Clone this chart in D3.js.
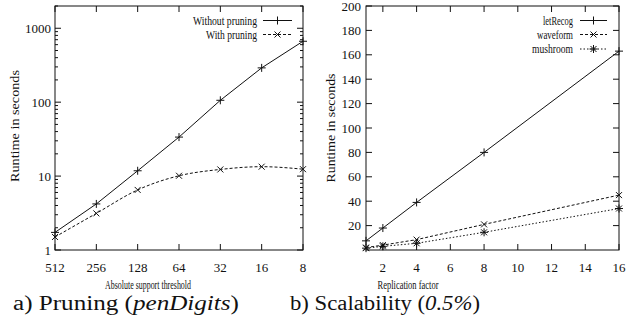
<!DOCTYPE html>
<html>
<head>
<meta charset="utf-8">
<script src="https://cdn.jsdelivr.net/npm/d3@7"></script>
<style>
  body { margin: 0; background: #fff; }
  svg { display: block; }
  svg text { font-family: "Liberation Serif", "Nimbus Roman", "Times", "DejaVu Serif", serif; }
</style>
</head>
<body>
<svg id="fig"></svg>
<script>
// ---- data ----
const thresholds = [512, 256, 128, 64, 32, 16, 8];
const withoutPruning = [1.73, 4.2, 11.8, 33.7, 106, 291, 667];
const withPruning = [1.5, 3.13, 6.5, 10.1, 12.3, 13.4, 12.4];
const logTicks = [1, 10, 100, 1000];

const factors = [1, 2, 4, 8, 16];
const letRecog = [7.5, 18, 39, 80, 163];
const waveform = [2, 4, 8.5, 21, 45];
const mushroom = [1.5, 3, 5.5, 14.5, 34];
const linTicksY = [20, 40, 60, 80, 100, 120, 140, 160, 180, 200];
const linTicksX = [2, 4, 6, 8, 10, 12, 14, 16];

const size = {w: 631, h: 335};
const svg = d3.select('svg#fig')
    .attr('width', size.w).attr('height', size.h)
    .attr('fill', '#111');

// fit text to a width by squeezing glyphs
function fit(sel, w) {
    sel.attr('textLength', w).attr('lengthAdjust', 'spacingAndGlyphs');
    return sel;
}

const markers = {
    plus: (g, x, y) => g.append('path').attr('d', `M${x-4},${y}H${x+4}M${x},${y-4}V${y+4}`),
    cross: (g, x, y) => g.append('path').attr('d', `M${x-3},${y-3}L${x+3},${y+3}M${x-3},${y+3}L${x+3},${y-3}`),
    star: (g, x, y) => g.append('path').attr('d', `M${x-4},${y}H${x+4}M${x},${y-4}V${y+4}M${x-3},${y-3}L${x+3},${y+3}M${x-3},${y+3}L${x+3},${y-3}`)
};

function drawFrame(g, box) {
    g.append('rect')
        .attr('x', box.x0).attr('y', box.y0)
        .attr('width', box.x1 - box.x0).attr('height', box.y1 - box.y0)
        .attr('fill', 'none').attr('stroke', '#111').attr('stroke-width', 1);
}

function tick(g, d) {
    g.append('path').attr('d', d).attr('stroke', '#111').attr('stroke-width', 1).attr('fill', 'none');
}

function drawSeries(g, xs, ys, x, y, dash, curve, marker) {
    let line = d3.line().x((d, i) => x(xs[i])).y(d => y(d)).curve(curve);
    g.append('path')
        .datum(ys)
        .attr('d', line)
        .attr('fill', 'none')
        .attr('stroke', '#111')
        .attr('stroke-width', 1)
        .attr('stroke-dasharray', dash);
    let mg = g.append('g').attr('stroke', '#111').attr('stroke-width', 1);
    ys.forEach((v, i) => markers[marker](mg, x(xs[i]), y(v)));
}

function legendRow(g, xText, xLine0, xLine1, y, label, w, dash, marker) {
    fit(g.append('text')
        .attr('x', xText).attr('y', y + 4)
        .attr('text-anchor', 'end')
        .attr('font-size', 13)
        .text(label), w);
    g.append('line')
        .attr('x1', xLine0).attr('x2', xLine1).attr('y1', y).attr('y2', y)
        .attr('stroke', '#111').attr('stroke-dasharray', dash);
    let mg = g.append('g').attr('stroke', '#111');
    markers[marker](mg, (xLine0 + xLine1) / 2, y);
}

// ---- panel a: pruning ----
function pruning() {
    const box = {x0: 55, x1: 303, y0: 6, y1: 250};
    const g = svg.append('g');
    const x = d3.scaleLog().base(2).domain([512, 8]).range([box.x0, box.x1]);
    const y = d3.scaleLog().domain([1, 2000]).range([box.y1, box.y0]);

    drawFrame(g, box);

    // y ticks, major + minor, on both sides
    for (let dec = 1; dec <= 1000; dec *= 10) {
        for (let m = 1; m <= 9; m++) {
            let v = dec * m;
            if (v > 2000) break;
            let yy = y(v);
            let len = m === 1 ? 6 : 3;
            tick(g, `M${box.x0},${yy}h${len}M${box.x1},${yy}h${-len}`);
        }
    }
    logTicks.forEach(v => {
        g.append('text')
            .attr('x', box.x0 - 4).attr('y', y(v) + 4.5)
            .attr('text-anchor', 'end').attr('font-size', 13)
            .text(v);
    });

    thresholds.forEach(v => {
        tick(g, `M${x(v)},${box.y1}v-6M${x(v)},${box.y0}v6`);
        g.append('text')
            .attr('x', x(v)).attr('y', box.y1 + 22)
            .attr('text-anchor', 'middle').attr('font-size', 13)
            .text(v);
    });

    fit(g.append('text')
        .attr('x', 148).attr('y', 289)
        .attr('text-anchor', 'middle').attr('font-size', 12)
        .text('Absolute support threshold'), 86);
    fit(g.append('text')
        .attr('transform', 'translate(19, 126) rotate(-90)')
        .attr('text-anchor', 'middle').attr('font-size', 13)
        .text('Runtime in seconds'), 112);

    drawSeries(g, thresholds, withoutPruning, x, y, null, d3.curveLinear, 'plus');
    drawSeries(g, thresholds, withPruning, x, y, '3,2', d3.curveMonotoneX, 'cross');

    legendRow(g, 257, 263, 292, 20.5, 'Without pruning', 64, null, 'plus');
    legendRow(g, 257, 263, 292, 34.5, 'With pruning', 51, '3,2', 'cross');
}

// ---- panel b: scalability ----
function scalability() {
    const box = {x0: 366, x1: 619, y0: 6, y1: 250};
    const g = svg.append('g');
    const x = d3.scaleLinear().domain([1, 16]).range([box.x0, box.x1]);
    const y = d3.scaleLinear().domain([0, 200]).range([box.y1, box.y0]);

    drawFrame(g, box);

    linTicksY.forEach(v => {
        tick(g, `M${box.x0},${y(v)}h6M${box.x1},${y(v)}h-6`);
        g.append('text')
            .attr('x', box.x0 - 5).attr('y', y(v) + 4.5)
            .attr('text-anchor', 'end').attr('font-size', 13)
            .text(v);
    });
    linTicksX.forEach(v => {
        tick(g, `M${x(v)},${box.y1}v-6M${x(v)},${box.y0}v6`);
        g.append('text')
            .attr('x', x(v)).attr('y', box.y1 + 22)
            .attr('text-anchor', 'middle').attr('font-size', 13)
            .text(v);
    });

    fit(g.append('text')
        .attr('x', 408).attr('y', 289)
        .attr('text-anchor', 'middle').attr('font-size', 12)
        .text('Replication factor'), 61);
    fit(g.append('text')
        .attr('transform', 'translate(335, 128) rotate(-90)')
        .attr('text-anchor', 'middle').attr('font-size', 13)
        .text('Runtime in seconds'), 109);

    drawSeries(g, factors, letRecog, x, y, null, d3.curveLinear, 'plus');
    drawSeries(g, factors, waveform, x, y, '3,2', d3.curveLinear, 'cross');
    drawSeries(g, factors, mushroom, x, y, '1.5,2', d3.curveLinear, 'star');

    legendRow(g, 573, 580, 607, 20.5, 'letRecog', 30, null, 'plus');
    legendRow(g, 573, 580, 607, 34.5, 'waveform', 36, '3,2', 'cross');
    legendRow(g, 573, 580, 607, 49, 'mushroom', 41, '1.5,2', 'star');
}

pruning();
scalability();

// ---- captions ----
const capA = svg.append('text').attr('x', 13).attr('y', 310).attr('font-size', 20);
capA.append('tspan').text('a) Pruning (');
capA.append('tspan').attr('font-style', 'italic').text('penDigits');
capA.append('tspan').text(')');
fit(capA, 226);

const capB = svg.append('text').attr('x', 290).attr('y', 310).attr('font-size', 20);
capB.append('tspan').text('b) Scalability (');
capB.append('tspan').attr('font-style', 'italic').text('0.5%');
capB.append('tspan').text(')');
fit(capB, 190);
</script>
</body>
</html>
